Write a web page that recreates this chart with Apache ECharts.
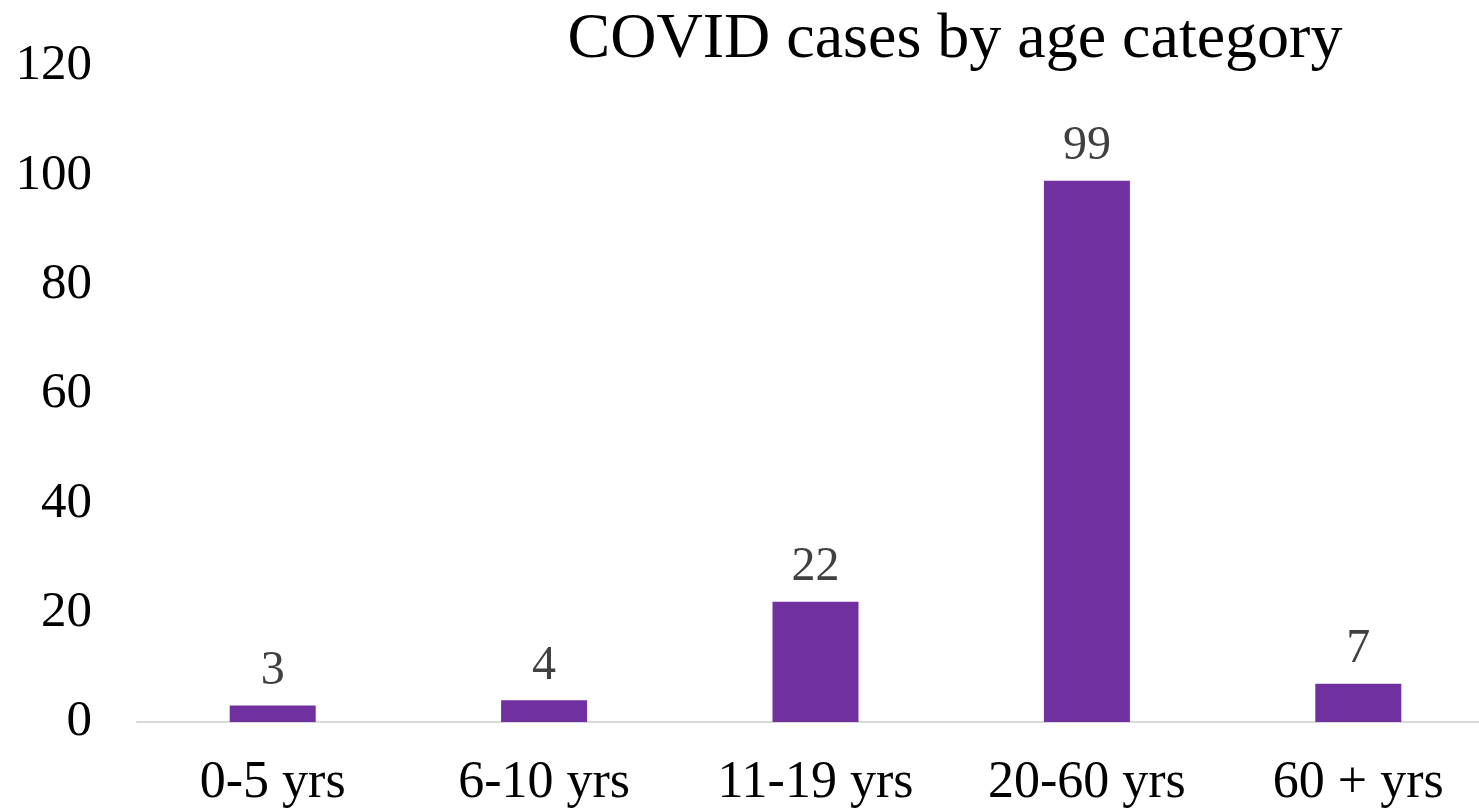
<!DOCTYPE html>
<html>
<head>
<meta charset="utf-8">
<script src="https://cdn.jsdelivr.net/npm/echarts@6/dist/echarts.min.js"></script>
<style>
  html, body { margin: 0; padding: 0; background: #fff; overflow: hidden; }
  #chart { width: 1500px; height: 812px; }
</style>
</head>
<body>
<div id="chart"></div>
<script>
const categories = ['0-5 yrs', '6-10 yrs', '11-19 yrs', '20-60 yrs', '60 + yrs']
const cases = [3, 4, 22, 99, 7]
const yTicks = [0, 20, 40, 60, 80, 100, 120]

const serif = '"Liberation Serif", "Times New Roman", serif'

// chart is a bit wider than the window: the last category runs off the right edge
const chart = echarts.init(document.getElementById('chart'))

const option = {
  animation: false,
  title: {
    text: 'COVID cases by age category',
    left: 950,
    top: 3,
    textAlign: 'center',
    textStyle: { fontFamily: serif, fontSize: 64, fontWeight: 'normal', color: '#000' }
  },
  grid: {
    left: 137,
    top: 66,
    width: 1357,
    height: 656,
    containLabel: false
  },
  xAxis: {
    type: 'category',
    data: categories,
    axisTick: { show: false },
    axisLine: { lineStyle: { color: '#d9d9d9', width: 2 } },
    axisLabel: { fontFamily: serif, fontSize: 52, color: '#000', margin: 35 }
  },
  yAxis: {
    type: 'value',
    min: yTicks[0],
    max: yTicks[yTicks.length - 1],
    interval: yTicks[1] - yTicks[0],
    splitLine: { show: false },
    axisLine: { show: false },
    axisTick: { show: false },
    axisLabel: { fontFamily: serif, fontSize: 51, color: '#000', margin: 45 }
  },
  series: [
    {
      name: 'Cases',
      type: 'bar',
      data: cases,
      barWidth: 86,
      itemStyle: { color: '#7030a0' },
      label: {
        show: true,
        position: 'top',
        distance: 10,
        fontFamily: serif,
        fontSize: 48,
        color: '#404040'
      }
    }
  ]
}

chart.setOption(option)
</script>
</body>
</html>
